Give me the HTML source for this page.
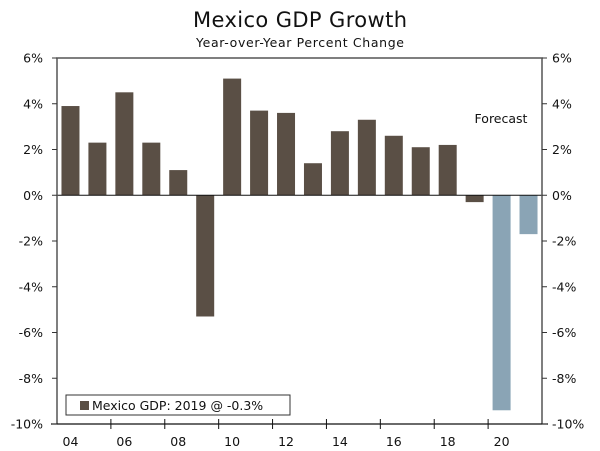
<!DOCTYPE html>
<html><head><meta charset="utf-8"><style>
body{margin:0;background:#fff}
svg{display:block;font-family:"DejaVu Sans","Liberation Sans",sans-serif}
</style></head><body>
<svg id="c" width="600" height="451" viewBox="0 0 600 451">
<text x="300" y="27" font-size="21" text-anchor="middle" fill="#111" textLength="214">Mexico GDP Growth</text>
<text x="300" y="47" font-size="12.5" text-anchor="middle" fill="#111" textLength="208">Year-over-Year Percent Change</text>
<g id="plot"></g>
<text x="501" y="123" font-size="12.5" text-anchor="middle" fill="#111">Forecast</text>
<rect x="66" y="395" width="224" height="20" fill="#fff" stroke="#333" stroke-width="1"/>
<rect x="80" y="401" width="9" height="9" fill="#5a4f45"/>
<text x="92" y="410" font-size="12.5" fill="#111">Mexico GDP: 2019 @ -0.3%</text>
</svg>
<script>
const years=[2004,2005,2006,2007,2008,2009,2010,2011,2012,2013,2014,2015,2016,2017,2018,2019,2020,2021];
const gdp=[3.9,2.3,4.5,2.3,1.1,-5.3,5.1,3.7,3.6,1.4,2.8,3.3,2.6,2.1,2.2,-0.3,-9.4,-1.7];
const forecastFrom=2020;
const yTicks=[6,4,2,0,-2,-4,-6,-8,-10];
const xLabels=["04","06","08","10","12","14","16","18","20"];
const L=57,R=542,T=58,B=424,ymin=-10,ymax=6;
const slot=(R-L)/years.length;
const y=v=>T+(ymax-v)/(ymax-ymin)*(B-T);
const xc=i=>L+slot*(i+0.5);
const g=document.getElementById('plot');
const NS='http://www.w3.org/2000/svg';
function mk(t,a){const e=document.createElementNS(NS,t);for(const k in a)e.setAttribute(k,a[k]);g.appendChild(e);return e;}
gdp.forEach((v,i)=>{
 const r=mk('rect',{x:xc(i)-9,y:Math.min(y(v),y(0)),width:18,height:Math.abs(y(v)-y(0)),fill:years[i]>=forecastFrom?'#8aa4b5':'#5a4f45'});
 
 
});
const zl=mk('line',{x1:L,x2:R,y1:y(0),y2:y(0),stroke:'#111','stroke-width':1});


const ax=mk('path',{d:`M${L},${B}V${T}H${R}V${B}`,fill:'none',stroke:'#555','stroke-width':1.5});


const xa=mk('line',{x1:L-6,x2:R+6,y1:B,y2:B,stroke:'#111','stroke-width':1.3});


yTicks.forEach(v=>{
 mk('line',{x1:L-5,x2:L,y1:y(v),y2:y(v),stroke:'#333'});
 mk('line',{x1:R,x2:R+5,y1:y(v),y2:y(v),stroke:'#333'});
 const a=mk('text',{x:L-14,y:y(v)+4.5,'font-size':12.5,'text-anchor':'end',fill:'#111'});a.textContent=v+'%';
 
 
 const b=mk('text',{x:R+10,y:y(v)+4.5,'font-size':12.5,fill:'#111'});b.textContent=v+'%';
 
 
});
for(let i=2;i<years.length;i+=2){mk('line',{x1:L+slot*i,x2:L+slot*i,y1:B-5,y2:B+5,stroke:'#111'});}
xLabels.forEach((s,k)=>{
 const t=mk('text',{x:xc(k*2),y:B+22,'font-size':12.5,'text-anchor':'middle',fill:'#111'});t.textContent=s;
 
 
});
</script>
</body></html>
